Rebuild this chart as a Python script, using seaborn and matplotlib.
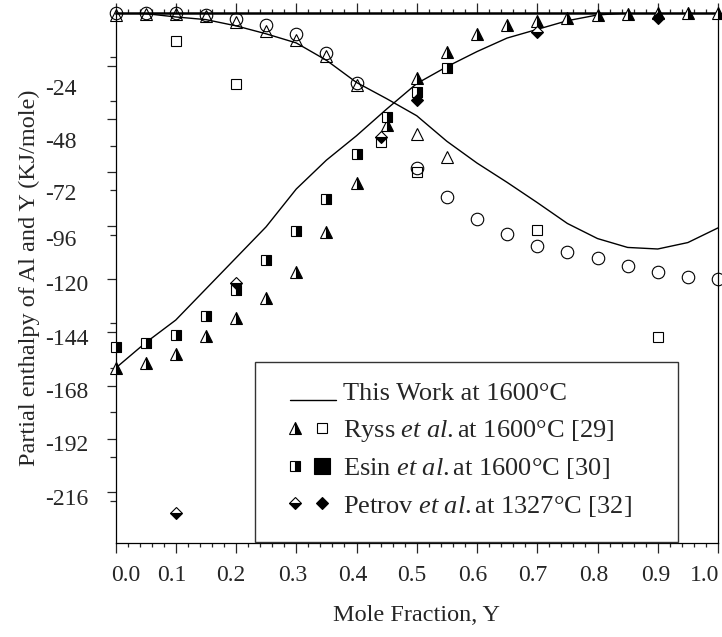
import matplotlib
matplotlib.use("Agg")
import numpy as np
import matplotlib.pyplot as plt
import seaborn as sns
from matplotlib.lines import Line2D
from matplotlib.patches import Rectangle
from matplotlib.legend_handler import HandlerTuple, HandlerLine2D
from matplotlib.ticker import FixedLocator, MultipleLocator, NullFormatter, NullLocator

# ---------------- data ----------------
x_curve = [0.0, 0.05, 0.1, 0.15, 0.2, 0.25, 0.3, 0.35, 0.4, 0.45, 0.5,
           0.55, 0.6, 0.65, 0.7, 0.75, 0.8, 0.85, 0.9, 0.95, 1.0]
h_al_curve = [0.0, -0.5, -2.0, -3.2, -6.0, -9.6, -13.7, -21.5, -31.5, -38.8, -46.5,
              -58.0, -67.8, -76.5, -85.6, -95.0, -101.8, -105.8, -106.5, -103.6, -97.0]
h_y_curve = [-160.2, -148.7, -138.5, -124.5, -110.5, -96.5, -79.5, -66.5, -55.5, -43.5, -32.0,
             -24.4, -17.6, -11.5, -7.6, -3.7, -1.1, -0.2, 0.0, 0.0, 0.0]

x_circle = [0.0, 0.05, 0.1, 0.15, 0.2, 0.25, 0.3, 0.35, 0.4,
            0.5, 0.55, 0.6, 0.65, 0.7, 0.75, 0.8, 0.85, 0.9, 0.95, 1.0]
y_circle = [0.0, 0.0, 0.0, -1.1, -2.9, -5.6, -9.7, -18.2, -31.7,
            -70.0, -83.0, -93.0, -99.7, -105.0, -108.0, -110.5, -114.0, -117.0, -119.0, -120.0]

x_tri_open = [0.0, 0.05, 0.1, 0.15, 0.2, 0.25, 0.3, 0.35, 0.4, 0.5, 0.55]
y_tri_open = [-1.0, -0.5, -0.5, -1.5, -4.3, -8.3, -12.4, -19.6, -32.6, -54.7, -65.0]

# Ryss et al. 1600 C
x_ryss_tri = [0.0, 0.05, 0.1, 0.15, 0.2, 0.25, 0.3, 0.35, 0.4, 0.45, 0.5,
              0.55, 0.6, 0.65, 0.7, 0.75, 0.8, 0.85, 0.9, 0.95, 1.0]
y_ryss_tri = [-160.0, -157.7, -153.8, -145.7, -137.6, -128.6, -116.7, -98.7, -76.9, -50.5, -29.6,
              -17.6, -9.7, -5.6, -3.7, -2.6, -1.1, -0.7, -0.3, -0.2, 0.0]
x_ryss_sq = [0.1, 0.2, 0.44, 0.5, 0.7, 0.9]
y_ryss_sq = [-12.7, -32.2, -58.5, -71.8, -97.9, -146.0]

# Esin et al. 1600 C
x_esin_half = [0.0, 0.05, 0.1, 0.15, 0.2, 0.25, 0.3, 0.35, 0.4, 0.45, 0.5, 0.55]
y_esin_half = [-150.8, -148.7, -145.2, -136.7, -125.0, -111.4, -98.2, -84.0, -63.7, -46.9, -35.6, -24.9]

# Petrov et al. 1327 C
x_petrov_half = [0.1, 0.2, 0.44, 0.7]
y_petrov_half = [-225.2, -121.8, -55.9, -8.6]
x_petrov_solid = [0.5, 0.9]
y_petrov_solid = [-39.4, -2.3]

x_major_ticks = [0.0, 0.1, 0.2, 0.3, 0.4, 0.5, 0.6, 0.7, 0.8, 0.9, 1.0]
x_tick_labels = ["0.0", "0.1", "0.2", "0.3", "0.4", "0.5", "0.6", "0.7", "0.8", "0.9", "1.0"]
x_label_at = [0.0174, 0.0928, 0.1917, 0.2938, 0.3939, 0.4921, 0.5934, 0.6930, 0.7940, 0.8960, 0.9780]
y_major_ticks = [-24, -48, -72, -96, -120, -144, -168, -192, -216]
y_minor_ticks = [-20, -40, -60, -80, -100, -140, -160, -180, -200, -220]
y_tick_labels = ["-24", "-48", "-72", "-96", "-120", "-144", "-168", "-192", "-216"]
y_label_at = [-33.5, -57.4, -80.8, -101.5, -121.8, -146.1, -169.9, -193.7, -218.1]

legend_labels = ["This Work at 1600°C",
                 r"Ryss $\mathit{et\ al.}$at 1600°C [29]",
                 r"Esin $\mathit{et\ al.}$at 1600°C [30]",
                 r"Petrov $\mathit{et\ al.}$at 1327°C [32]"]

# ---------------- style ----------------
sns.set_style("ticks")
plt.rcParams['font.family'] = ['Liberation Serif', 'DejaVu Serif']
plt.rcParams['mathtext.fontset'] = 'custom'
plt.rcParams['mathtext.rm'] = 'Liberation Serif'
plt.rcParams['mathtext.it'] = 'Liberation Serif:italic'

W, H = 722, 637
fig = plt.figure(figsize=(W / 100, H / 100), dpi=100)
L, R, T, B = 115.5, 718, 12.5, 543
ax = fig.add_axes([L / W, 1 - B / H, (R - L) / W, (B - T) / H])

common = dict(ax=ax, estimator=None, sort=False, legend=False)
mk = dict(linestyle='', color='black', markeredgecolor='black', markeredgewidth=0.8,
          clip_on=False, zorder=3)

sns.lineplot(x=x_curve, y=h_al_curve, color='black', linewidth=1.0, **common)
sns.lineplot(x=x_curve, y=h_y_curve, color='black', linewidth=1.0, **common)

sns.lineplot(x=x_circle, y=y_circle, marker='o', markersize=9, markerfacecolor='none', **mk, **common)
sns.lineplot(x=x_tri_open, y=y_tri_open, marker='^', markersize=8, markerfacecolor='none', **mk, **common)
sns.lineplot(x=x_ryss_tri, y=y_ryss_tri, marker='^', markersize=8, fillstyle='right',
             markerfacecolor='black', markerfacecoloralt='white', **mk, **common)
sns.lineplot(x=x_ryss_sq, y=y_ryss_sq, marker='s', markersize=7.5, markerfacecolor='none', **mk, **common)
sns.lineplot(x=x_esin_half, y=y_esin_half, marker='s', markersize=7.5, fillstyle='right',
             markerfacecolor='black', markerfacecoloralt='white', **mk, **common)
sns.lineplot(x=x_petrov_half, y=y_petrov_half, marker='D', markersize=6.5, fillstyle='bottom',
             markerfacecolor='black', markerfacecoloralt='white', **mk, **common)
sns.lineplot(x=x_petrov_solid, y=y_petrov_solid, marker='D', markersize=6.5,
             markerfacecolor='black', **mk, **common)

ax.set_xlim(0, 1.0)
ax.set_ylim(-238.9, 0)

# tick marks (main axis)
ax.xaxis.set_major_locator(FixedLocator(x_major_ticks))
ax.xaxis.set_minor_locator(MultipleLocator(0.02))
ax.xaxis.set_major_formatter(NullFormatter())
ax.yaxis.set_major_locator(FixedLocator(y_major_ticks))
ax.yaxis.set_minor_locator(FixedLocator(y_minor_ticks))
ax.yaxis.set_major_formatter(NullFormatter())
ax.tick_params(axis='x', which='both', direction='out', top=True, bottom=True,
               labelbottom=False, labeltop=False, width=0.9)
ax.tick_params(axis='x', which='major', length=7)
ax.tick_params(axis='x', which='minor', length=3)
ax.tick_params(axis='y', which='both', direction='out', left=True, right=False,
               labelleft=False, width=0.9)
ax.tick_params(axis='y', which='major', length=6.5)
ax.tick_params(axis='y', which='minor', length=4)
for s in ['left', 'right', 'bottom']:
    ax.spines[s].set_linewidth(0.9)
    ax.spines[s].set_color('black')
ax.spines['top'].set_linewidth(1.8)
ax.spines['top'].set_color('black')

# tick labels (secondary axes carry the text)
sx = ax.secondary_xaxis('bottom')
sx.set_xticks(x_label_at, x_tick_labels)
sx.xaxis.set_minor_locator(NullLocator())
sx.tick_params(axis='x', length=0, pad=16, labelsize=17)
sx.spines['bottom'].set_visible(False)

sy = ax.secondary_yaxis('left')
sy.set_yticks(y_label_at, y_tick_labels)
sy.yaxis.set_minor_locator(NullLocator())
sy.tick_params(axis='y', length=0, pad=51, labelsize=17)
sy.spines['left'].set_visible(False)
for t in sy.get_yticklabels():
    t.set_horizontalalignment('left')

ax.set_xlabel("Mole Fraction, Y", fontsize=17.5)
ax.set_ylabel("Partial enthalpy of Al and Y (KJ/mole)", fontsize=17.5)
ax.xaxis.set_label_coords(0.5, -0.117)
ax.yaxis.set_label_coords(-0.1253, 0.5)

# legend frame + legend
ax.add_patch(Rectangle(((255 - L) / (R - L), (B - 542) / (B - T)), (678 - 255) / (R - L),
                       (542 - 362) / (B - T), transform=ax.transAxes, facecolor='white',
                       edgecolor='#333333', linewidth=1.0, zorder=4, clip_on=False))


class BaselineLineHandler(HandlerLine2D):
    """Line handle drawn at the text baseline, like an underscore rule."""
    def create_artists(self, legend, orig_handle, xdescent, ydescent, width, height,
                       fontsize, trans):
        arts = super().create_artists(legend, orig_handle, xdescent, ydescent, width,
                                      height, fontsize, trans)
        for a in arts:
            a.set_ydata(np.asarray(a.get_ydata(), dtype=float) - 0.33 * fontsize)
            a.set_xdata(np.asarray(a.get_xdata(), dtype=float) + 0.2 * fontsize)
        return arts


hm = dict(linestyle='', color='black', markeredgecolor='black', markeredgewidth=0.8)
h_line = Line2D([], [], color='black', linewidth=1.0)
h_rt = Line2D([], [], marker='^', markersize=8, fillstyle='right', markerfacecolor='black',
              markerfacecoloralt='white', **hm)
h_rs = Line2D([], [], marker='s', markersize=7, markerfacecolor='none', **hm)
h_es = Line2D([], [], marker='s', markersize=7, fillstyle='right', markerfacecolor='black',
              markerfacecoloralt='white', **hm)
h_ef = Line2D([], [], marker='s', markersize=11, markerfacecolor='black', **hm)
h_pd = Line2D([], [], marker='D', markersize=6.5, fillstyle='bottom', markerfacecolor='black',
              markerfacecoloralt='white', **hm)
h_pf = Line2D([], [], marker='D', markersize=6.5, markerfacecolor='black', **hm)

leg = ax.legend([h_line, (h_rt, h_rs), (h_es, h_ef), (h_pd, h_pf)], legend_labels,
                handler_map={tuple: HandlerTuple(ndivide=None, pad=0.3),
                             h_line: BaselineLineHandler()},
                loc='upper left', bbox_to_anchor=((285 - L) / (R - L), (B - 382) / (B - T)),
                borderaxespad=0, borderpad=0, frameon=False, fontsize=19,
                handlelength=1.75, handletextpad=0.45, labelspacing=0.47)
leg.set_zorder(5)

fig.savefig("out.png", dpi=100)
